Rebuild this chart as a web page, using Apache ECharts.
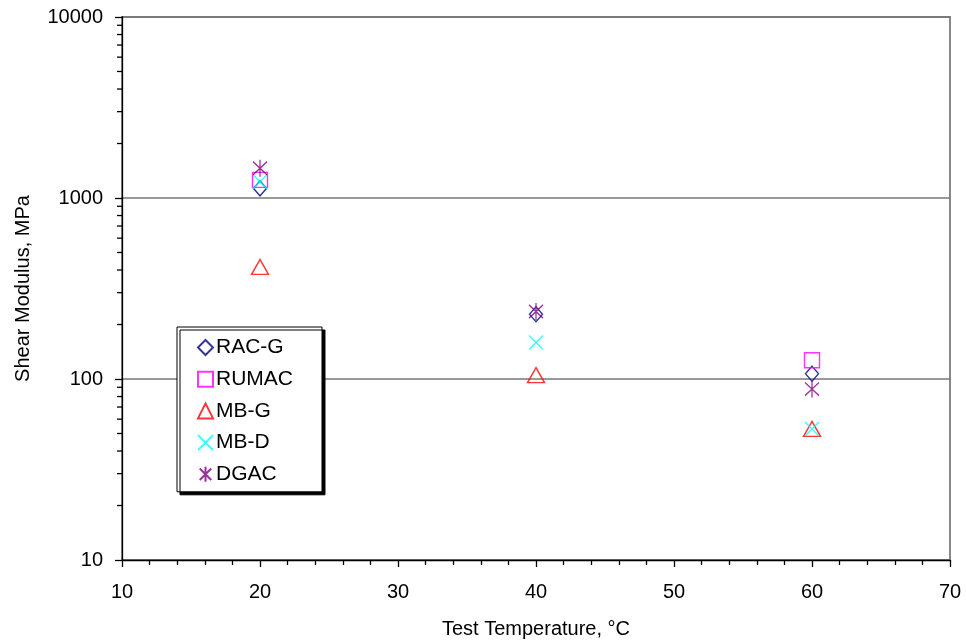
<!DOCTYPE html>
<html>
<head>
<meta charset="utf-8">
<script src="https://cdn.jsdelivr.net/npm/echarts@6/dist/echarts.min.js"></script>
<style>
  html, body { margin: 0; padding: 0; background: #fff; }
  #main { width: 966px; height: 642px; }
</style>
</head>
<body>
<div id="main"></div>
<script>
// test temperatures, deg C
const temps = [20, 40, 60];
// shear modulus, MPa
const racG  = [1130, 228, 107];
const rumac = [1260, null, 127];
const mbG   = [416, 105, 53];
const mbD   = [1230, 159, 53];
const dgac  = [1460, 236, 88];
// minor tick values for the log axis
const yMinor = [];
[10, 100, 1000].forEach(d => { for (let k = 2; k <= 9; k++) yMinor.push(d * k); });

const font = 'Liberation Sans, Arial, sans-serif';

const pts = vals => temps.map((t, i) => [t, vals[i]]).filter(p => p[1] != null);

const mk = (name, data, color, symbol, size) => ({
  name: name,
  type: 'scatter',
  data: pts(data),
  symbol: symbol,
  symbolSize: size,
  itemStyle: { color: 'transparent', borderColor: color, borderWidth: 1.4 },
  emphasis: { disabled: true },
  z: 5
});

const chartDom = document.getElementById('main');
const myChart = echarts.init(chartDom);

const option = {
  animation: false,
  backgroundColor: '#fff',
  textStyle: { fontFamily: font },
  grid: {
    left: 122, right: 16, top: 17, bottom: 82,
    outerBoundsMode: 'none', containLabel: false,
    show: true, borderColor: '#888', borderWidth: 2
  },
  xAxis: {
    type: 'value', min: 10, max: 70, interval: 10,
    name: 'Test Temperature, °C', nameLocation: 'middle', nameGap: 59,
    nameTextStyle: { color: '#000', fontSize: 20, fontFamily: font },
    axisLine: { lineStyle: { color: '#000', width: 1.3 } },
    axisTick: { show: true, length: 7, lineStyle: { color: '#000', width: 1.3 } },
    minorTick: { show: true, splitNumber: 5, length: 5, lineStyle: { color: '#000', width: 1.3 } },
    axisLabel: { color: '#000', fontSize: 20, margin: 22, fontFamily: font },
    splitLine: { show: false }
  },
  yAxis: {
    type: 'log', logBase: 10, min: 10, max: 10000,
    name: 'Shear Modulus, MPa', nameLocation: 'middle', nameGap: 89,
    nameTextStyle: { color: '#000', fontSize: 20, fontFamily: font },
    axisLine: { lineStyle: { color: '#000', width: 1.3 } },
    axisTick: { show: true, length: 7, lineStyle: { color: '#000', width: 1.3 } },
    axisLabel: { color: '#000', fontSize: 20, margin: 19, fontFamily: font, formatter: v => String(Math.round(v)) },
    splitLine: { show: true, lineStyle: { color: '#777', width: 1.5 } }
  },
  legend: {
    data: ['RAC-G', 'RUMAC', 'MB-G', 'MB-D', 'DGAC'],
    orient: 'vertical',
    left: 177, top: 327,
    padding: [10, 29, 7, 20],
    itemWidth: 15, itemHeight: 15, itemGap: 10.7,
    backgroundColor: '#fff',
    borderColor: '#000', borderWidth: 1,
    shadowColor: '#000', shadowBlur: 0, shadowOffsetX: 3, shadowOffsetY: 3,
    textStyle: { color: '#000', fontSize: 21, fontFamily: font, padding: [0, 0, 0, -2] },
    selectedMode: false
  },
  series: [
    mk('RAC-G', racG, '#000080', 'diamond', [13, 15]),
    mk('RUMAC', rumac, '#FF00FF', 'rect', 15),
    mk('MB-G', mbG, '#FF0000', 'triangle', [17, 15]),
    mk('MB-D', mbD, '#00FFFF', 'path://M0,0L10,10M10,0L0,10', 14),
    mk('DGAC', dgac, '#800080', 'path://M0,0L10,10M10,0L0,10M5,-1.5L5,11.5', [14, 17]),
    {
      // minor ticks on the log axis
      type: 'custom',
      silent: true,
      clip: false,
      data: yMinor.map(v => [10, v]),
      renderItem: (params, api) => {
        const p = api.coord([api.value(0), api.value(1)]);
        return {
          type: 'line',
          shape: { x1: p[0] - 5, y1: p[1], x2: p[0], y2: p[1] },
          style: { stroke: '#000', lineWidth: 1.3 }
        };
      },
      z: 3
    }
  ]
};

option && myChart.setOption(option);
</script>
</body>
</html>
